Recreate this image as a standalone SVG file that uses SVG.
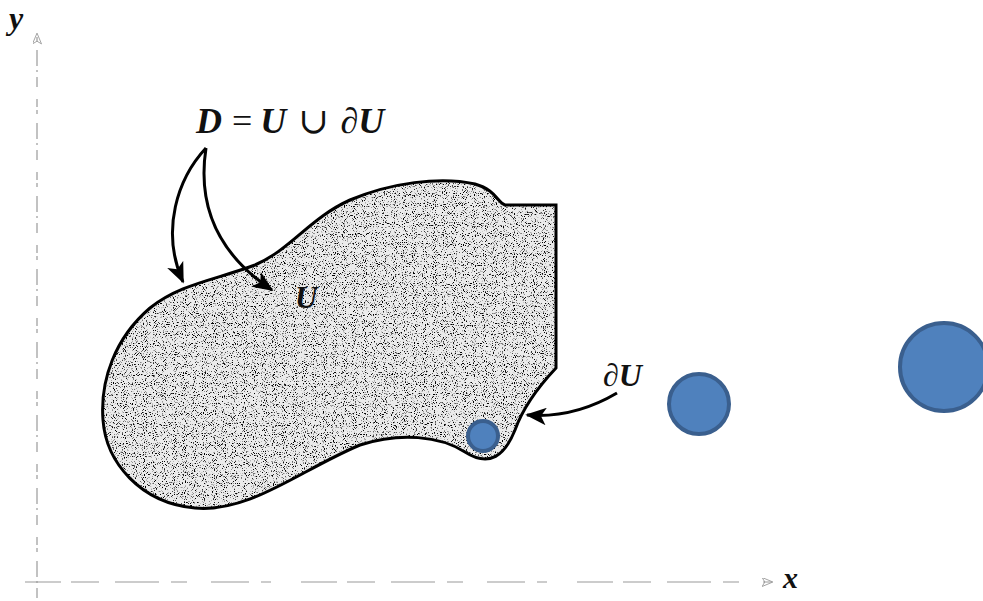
<svg xmlns="http://www.w3.org/2000/svg" width="983" height="601" viewBox="0 0 983 601">
<style>
.axis{stroke:#9a9a9a;stroke-width:1.2;fill:none}
.lbl{font-family:"Liberation Serif","DejaVu Serif",serif;font-style:italic;font-weight:bold;fill:#111}
.op{font-family:"Liberation Serif","DejaVu Serif",serif;fill:#111}
.conn{stroke:#000;stroke-width:3;fill:none}
.dot{fill:#4f81bd;stroke:#3a5f8e;stroke-width:4}
</style>
<defs>
<filter id="stip" x="0" y="0" width="1" height="1">
<feTurbulence type="fractalNoise" baseFrequency="0.9" numOctaves="1" seed="7" result="n"/>
<feColorMatrix in="n" type="matrix" values="0 0 0 0 0  0 0 0 0 0  0 0 0 0 0  8 0 0 0 -4.5" result="d"/>
<feComposite in="d" in2="SourceAlpha" operator="in"/>
</filter>
<marker id="ah" viewBox="0 0 12 10" refX="11" refY="5" markerWidth="7" markerHeight="6" orient="auto" markerUnits="strokeWidth">
<path d="M0,0 L12,5 L0,10 L3,5 Z" fill="#000"/>
</marker>
<marker id="axh" viewBox="0 0 12 10" refX="11" refY="5" markerWidth="12" markerHeight="9" orient="auto" markerUnits="userSpaceOnUse">
<path d="M0,0 L12,5 L0,10 L3,5 Z" fill="none" stroke="#9a9a9a" stroke-width="1"/>
</marker>
</defs>
<rect width="983" height="601" fill="#fff"/>
<g id="axes">
<path class="axis" d="M37,598 L37,34" stroke-dasharray="10 5 2 4 16 9 4 3 8 12" marker-end="url(#axh)"/>
<path class="axis" d="M25,582 L772,582" stroke-dasharray="36 10 28 16 44 12 16 24 38 12 10 30" marker-end="url(#axh)"/>
<text class="lbl" x="9" y="29" font-size="32" font-weight="normal">y</text>
<text class="lbl" x="783" y="588" font-size="30" font-weight="normal">x</text>
</g>
<g id="region">
<path d="M556,205 L505,205 C497,202 496,190 475,184 C440,176 390,183 350,200 C310,218 290,250 255,265 C215,280 180,284 150,308 C115,338 100,380 103,420 C106,462 140,503 195,508 C250,513 300,470 360,445 C400,432 440,436 465,452 C490,468 505,455 515,430 C524,405 540,385 556,368 Z" fill="#ebebeb"/>
<path d="M556,205 L505,205 C497,202 496,190 475,184 C440,176 390,183 350,200 C310,218 290,250 255,265 C215,280 180,284 150,308 C115,338 100,380 103,420 C106,462 140,503 195,508 C250,513 300,470 360,445 C400,432 440,436 465,452 C490,468 505,455 515,430 C524,405 540,385 556,368 Z" fill="#000" filter="url(#stip)"/>
<path d="M556,205 L505,205 C497,202 496,190 475,184 C440,176 390,183 350,200 C310,218 290,250 255,265 C215,280 180,284 150,308 C115,338 100,380 103,420 C106,462 140,503 195,508 C250,513 300,470 360,445 C400,432 440,436 465,452 C490,468 505,455 515,430 C524,405 540,385 556,368 Z" fill="none" stroke="#000" stroke-width="3"/>
<text class="lbl" x="295" y="308" font-size="31">U</text>
</g>
<g id="label-D">
<text x="196" y="133" font-size="36"><tspan class="lbl">D</tspan><tspan class="op" dx="10">=</tspan><tspan class="lbl" dx="8">U</tspan><tspan class="op" dx="12">∪</tspan><tspan class="lbl" dx="12" font-weight="normal">∂</tspan><tspan class="lbl">U</tspan></text>
</g>
<g id="label-dU">
<text class="lbl" x="603" y="386" font-size="32"><tspan font-weight="normal">∂</tspan>U</text>
</g>
<g id="c1"><circle class="dot" cx="483" cy="436" r="15"/></g>
<g id="c2"><circle class="dot" cx="699" cy="404" r="30"/></g>
<g id="c3"><circle class="dot" cx="944" cy="367" r="44"/></g>
<g id="connectors">
<path class="conn" d="M206,148 C178,178 160,230 183,282" marker-end="url(#ah)"/>
<path class="conn" d="M206,148 C198,200 212,250 272,290" marker-end="url(#ah)"/>
<path class="conn" d="M617,393 C595,406 565,418 527,415" marker-end="url(#ah)"/>
</g>
</svg>
